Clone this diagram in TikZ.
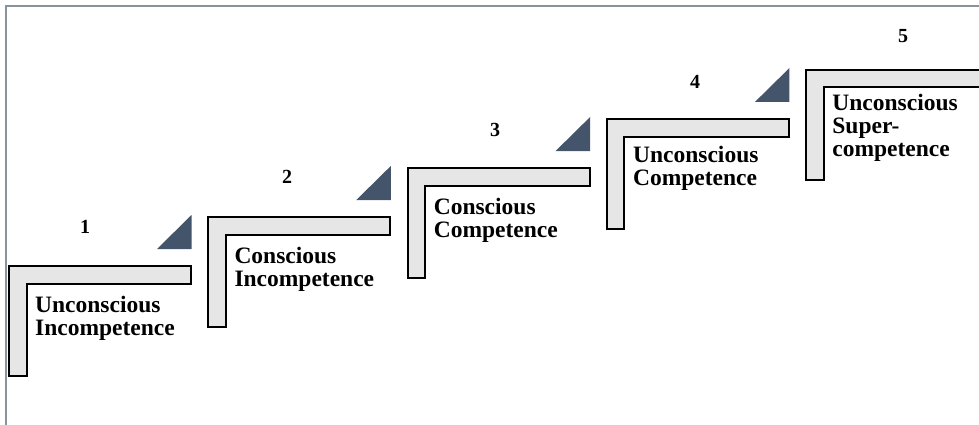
\documentclass[tikz,border=0pt]{standalone}
\usepackage{fontspec}
\setmainfont{Liberation Serif}
\definecolor{stepfill}{RGB}{230,230,230}
\definecolor{wedgeblue}{RGB}{68,84,106}
\definecolor{framegray}{RGB}{138,146,158}
\tikzset{
  stepshape/.style={draw=black,line width=2pt,fill=stepfill,line join=miter},
  wedge/.style={fill=wedgeblue},
  stepnum/.style={font=\fontsize{20}{20}\selectfont\bfseries,inner sep=0pt},
  steptext/.style={anchor=north west,inner sep=0pt,align=left,
    font=\fontsize{23.5}{23}\selectfont\bfseries}
}

\begin{document}
\begin{tikzpicture}[x=1pt,y=-1pt]
\useasboundingbox (0,0) rectangle (979,425);
\clip (0,0) rectangle (979,425);
% frame round the staircase
\draw[framegray,line width=1.3pt] (6,425) -- (6,6) -- (979,6);
% the five steps: number position, text drop, label
\foreach \i/\nx/\ny/\ty/\txt in {
  1/85/227/30/{Unconscious\\Incompetence},
  2/287/177/30/{Conscious\\Incompetence},
  3/495/130/30/{Conscious\\Competence},
  4/695/82/27/{Unconscious\\Competence},
  5/903/36/24/{Unconscious\\Super-\\competence}}{
  \pgfmathsetmacro{\sx}{9+199.3*(\i-1)}
  \pgfmathsetmacro{\sy}{266-49*(\i-1)}
  \pgfmathsetmacro{\w}{\i==5 ? 260 : 182}
  \coordinate (s\i) at (\sx,\sy);
  \filldraw[stepshape] (s\i) -- ++(\w,0) -- ++(0,17.5) -- ++(17.5-\w,0)
    -- ++(0,92.5) -- ++(-17.5,0) -- cycle;
  %wedge above the right end of the step
  \ifnum\i<5
    \fill[wedge] (\sx+148,\sy-17) -- (\sx+182.5,\sy-17) -- (\sx+182.5,\sy-51) -- cycle;
  \fi
  \node[stepnum] (num\i) at (\nx,\ny) {\i};
  \node[steptext] (lbl\i) at (\sx+26,\sy+\ty) {\txt};
}
\end{tikzpicture}
\end{document}
